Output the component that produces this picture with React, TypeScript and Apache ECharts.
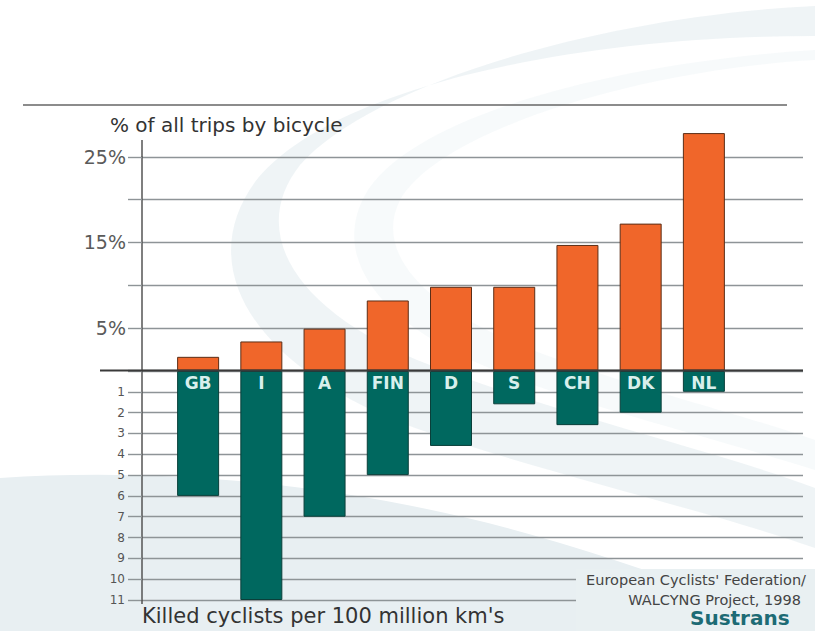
import React, { useEffect, useRef } from 'react';
import * as echarts from 'echarts';

// ---- data ----
const countries = ['GB', 'I', 'A', 'FIN', 'D', 'S', 'CH', 'DK', 'NL'];
const tripShare = [1.6, 3.4, 4.9, 8.2, 9.8, 9.8, 14.7, 17.2, 27.8];
const killedPer100M = [6.0, 11.0, 7.0, 5.0, 3.6, 1.6, 2.6, 2.0, 1.0];
const shareLabelTicks = [5, 15, 25];
const upperTitle = '% of all trips by bicycle';
const lowerTitle = "Killed cyclists per 100 million km's";
const sourceLines = ["European Cyclists' Federation/", 'WALCYNG Project, 1998'];
const brand = 'Sustrans';

const FONT = '"DejaVu Sans", Verdana, sans-serif';

const BAND_PATH =
  'M815,6 C600,16 370,85 300,165 C245,235 300,315 430,365 C560,415 720,452 815,488 L815,548 C700,508 540,472 415,428 C262,372 190,272 255,182 C325,92 560,36 815,36 Z';
const LOWER_PATH =
  'M0,478 C180,466 380,488 560,543 C660,573 740,603 790,631 L0,631 Z';
const INNER_PATH =
  'M815,60 C640,70 440,130 400,200 C370,260 440,320 560,360 C660,395 760,420 815,440 L815,470 C720,440 600,410 520,380 C380,330 330,260 365,195 C410,115 620,62 815,50 Z';

export default function App() {
  const ref = useRef<HTMLDivElement | null>(null);

  useEffect(() => {
    if (!ref.current) return;
    echarts.graphic.registerShape('swooshBand', echarts.graphic.extendPath(BAND_PATH, {}));
    echarts.graphic.registerShape('swooshLower', echarts.graphic.extendPath(LOWER_PATH, {}));
    echarts.graphic.registerShape('swooshInner', echarts.graphic.extendPath(INNER_PATH, {}));
    const chart = echarts.init(ref.current, null, { renderer: 'svg' });

    const UP_TOP = 157;
    const UP_H = 213.5;
    const LO_TOP = 371;
    const LO_H = 229;
    const FRAME_L = 142;
    const FRAME_W = 661;
    const BAR_L = 166.5;
    const BAR_W = 569;
    const gridColor = '#8e9497';

    const frameY = (extra: any) => ({
      type: 'value',
      axisLine: { show: true, lineStyle: { color: '#555', width: 1.5 } },
      axisTick: { show: true, inside: false, length: 14, lineStyle: { color: gridColor, width: 1.4 } },
      splitLine: { show: true, lineStyle: { color: gridColor, width: 1.4 } },
      ...extra,
    });

    const option: any = {
      animation: false,
      backgroundColor: 'transparent',
      grid: [
        { left: FRAME_L, top: UP_TOP, width: FRAME_W, height: UP_H },
        { left: BAR_L, top: UP_TOP, width: BAR_W, height: UP_H },
        { left: FRAME_L, top: LO_TOP, width: FRAME_W, height: LO_H },
        { left: BAR_L, top: LO_TOP, width: BAR_W, height: LO_H },
      ],
      xAxis: [
        { gridIndex: 0, type: 'value', min: 0, max: 1, show: false },
        { gridIndex: 1, type: 'category', data: countries, show: false },
        { gridIndex: 2, type: 'value', min: 0, max: 1, show: false },
        { gridIndex: 3, type: 'category', data: countries, show: false },
      ],
      yAxis: [
        frameY({
          gridIndex: 0,
          min: 0,
          max: 25,
          interval: 5,
          axisLabel: {
            margin: 16,
            color: '#5a5a5a',
            fontSize: 19,
            fontFamily: FONT,
            formatter: (v: number) => (shareLabelTicks.includes(v) ? v + '%' : ''),
          },
        }),
        { gridIndex: 1, type: 'value', min: 0, max: 25, show: false },
        frameY({
          gridIndex: 2,
          min: 0,
          max: 11,
          interval: 1,
          inverse: true,
          axisLabel: {
            margin: 17,
            color: '#555',
            fontSize: 12,
            fontFamily: FONT,
            formatter: (v: number) => (v === 0 ? '' : String(v)),
          },
        }),
        { gridIndex: 3, type: 'value', min: 0, max: 11, inverse: true, show: false },
      ],
      series: [
        {
          type: 'bar',
          xAxisIndex: 1,
          yAxisIndex: 1,
          data: tripShare,
          barWidth: 42,
          clip: false,
          itemStyle: { color: '#f0662a', borderColor: '#5b2e17', borderWidth: 1 },
          z: 3,
        },
        {
          type: 'bar',
          xAxisIndex: 3,
          yAxisIndex: 3,
          data: killedPer100M,
          barWidth: 42,
          itemStyle: { color: '#00685f', borderColor: '#0a3f3a', borderWidth: 1 },
          label: {
            show: true,
            position: 'insideTop',
            distance: 3,
            formatter: (p: any) => p.name,
            color: '#d8efec',
            fontWeight: 'bold',
            fontSize: 17,
            fontFamily: FONT,
          },
          z: 3,
        },
      ],
      graphic: [
        { type: 'swooshLower', x: 0, y: 0, z: -20, style: { fill: '#e8eff2' }, silent: true },
        { type: 'swooshBand', x: 0, y: 0, z: -19, style: { fill: '#ebf1f4', opacity: 0.8 }, silent: true },
        { type: 'swooshInner', x: 0, y: 0, z: -18, style: { fill: '#f2f6f8', opacity: 0.6 }, silent: true },
        {
          type: 'line',
          z: 10,
          shape: { x1: 23, y1: 105, x2: 787, y2: 105 },
          style: { stroke: '#666', lineWidth: 1.5 },
        },
        {
          type: 'line',
          z: 10,
          shape: { x1: 142, y1: 140, x2: 142, y2: UP_TOP },
          style: { stroke: '#555', lineWidth: 1.5 },
        },
        {
          type: 'line',
          z: 10,
          shape: { x1: 142, y1: LO_TOP + LO_H, x2: 142, y2: LO_TOP + LO_H + 4 },
          style: { stroke: '#555', lineWidth: 1.5 },
        },
        {
          type: 'line',
          z: 10,
          shape: { x1: 100, y1: 370.5, x2: 803, y2: 370.5 },
          style: { stroke: '#3a3a3a', lineWidth: 1.8 },
        },
        {
          type: 'rect',
          z: 5,
          shape: { x: 576, y: 569, width: 239, height: 62 },
          style: { fill: '#e9f0f2' },
        },
        {
          type: 'text',
          z: 10,
          x: 110,
          y: 125,
          style: {
            text: upperTitle,
            fill: '#333',
            font: `20px ${FONT}`,
            verticalAlign: 'middle',
          },
        },
        {
          type: 'text',
          z: 10,
          x: 142,
          y: 616,
          style: {
            text: lowerTitle,
            fill: '#333',
            font: `21px ${FONT}`,
            verticalAlign: 'middle',
          },
        },
        {
          type: 'text',
          z: 10,
          x: 806,
          y: 580,
          style: {
            text: sourceLines[0],
            fill: '#444',
            font: `14.5px ${FONT}`,
            align: 'right',
            verticalAlign: 'middle',
          },
        },
        {
          type: 'text',
          z: 10,
          x: 801,
          y: 600,
          style: {
            text: sourceLines[1],
            fill: '#444',
            font: `14.5px ${FONT}`,
            align: 'right',
            verticalAlign: 'middle',
          },
        },
        {
          type: 'text',
          z: 10,
          x: 690,
          y: 618,
          style: {
            text: brand,
            fill: '#1d6b75',
            font: `bold 20px ${FONT}`,
            verticalAlign: 'middle',
          },
        },
      ],
    };

    chart.setOption(option);
    return () => chart.dispose();
  }, []);

  return (
    <div
      ref={ref}
      style={{ position: 'absolute', left: 0, top: 0, width: 815, height: 631, background: '#fff' }}
    />
  );
}
